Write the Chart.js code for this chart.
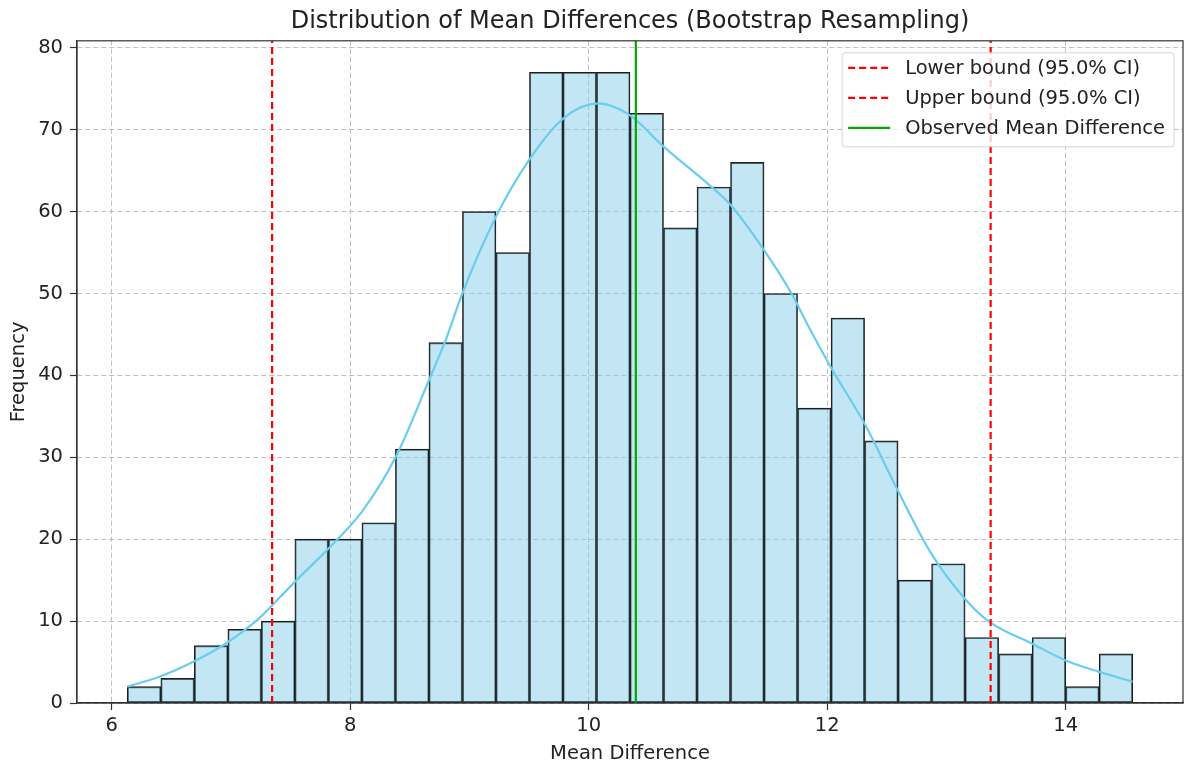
<!DOCTYPE html>
<html>
<head>
<meta charset="utf-8">
<script src="https://cdn.jsdelivr.net/npm/chart.js@4.4.1/dist/chart.umd.min.js"></script>
<style>
html, body { margin: 0; padding: 0; background: #fff; }
#wrap { width: 1184px; height: 769px; position: relative; }
</style>
</head>
<body>
<div id="wrap"><canvas id="mycanvas"></canvas></div>
<script>
// histogram bins (bootstrap mean differences)
var binStart = 6.131;
var binWidth = 0.281;
var counts = [2, 3, 7, 9, 10, 20, 20, 22, 31, 44, 60, 55, 77, 77, 77,
              72, 58, 63, 66, 50, 36, 47, 32, 15, 17, 8, 6, 8, 2, 6];

// kde curve
var kdeX = [6.13, 6.40, 6.68, 6.96, 7.24, 7.41, 7.55, 7.82, 8.10, 8.38, 8.66, 8.80, 8.94,
            9.22, 9.50, 9.79, 10.08, 10.34, 10.63, 11.03, 11.19, 11.46, 11.70, 11.86, 12.03,
            12.32, 12.59, 12.87, 13.15, 13.36, 13.71, 14.00, 14.28, 14.56];
var kdeY = [2.0, 3.2, 5.0, 7.3, 10.4, 12.9, 15.0, 18.9, 23.4, 30.0, 39.4, 44.3, 50.0,
            59.3, 66.3, 71.4, 73.2, 71.8, 67.9, 63.0, 60.8, 55.5, 50.0, 45.5, 41.0,
            33.9, 26.0, 18.3, 12.8, 9.9, 7.3, 5.2, 3.8, 2.6];

var lowerBound = 7.345;
var upperBound = 13.37;
var observedMean = 10.395;

var xTicks = [6, 8, 10, 12, 14];
var yTicks = [0, 10, 20, 30, 40, 50, 60, 70, 80];
var xMin = 5.709, xMax = 14.983;
var yMax = 80.85;

var FONT = '"DejaVu Sans", sans-serif';
var TEXT = '#222';
var FS = 19.5;

var histData = [];
for (var i in counts) {
	histData.push({ x: binStart + (Number(i) + 0.5) * binWidth, y: counts[i] });
}
var kdeData = [];
for (var j in kdeX) {
	kdeData.push({ x: kdeX[j], y: kdeY[j] });
}
function vline(v) {
	return [{ x: v, y: 0 }, { x: v, y: yMax }];
}

// four spines round the plot, like matplotlib
var frame = {
	id: 'frame',
	afterDatasetsDraw: function(chart) {
		var a = chart.chartArea, ctx = chart.ctx;
		ctx.save();
		ctx.strokeStyle = '#333';
		ctx.lineWidth = 1.2;
		ctx.strokeRect(a.left, a.top, a.right - a.left, a.bottom - a.top);
		ctx.restore();
	}
};

// legend box in the upper right corner of the plot
var legendBox = {
	id: 'legendBox',
	afterDraw: function(chart) {
		var a = chart.chartArea, ctx = chart.ctx;
		var items = chart.data.datasets.filter(function(d) { return d.inLegend; });
		ctx.save();
		ctx.font = FS + 'px ' + FONT;
		var w = 0;
		items.forEach(function(d) { w = Math.max(w, ctx.measureText(d.label).width); });
		var boxW = 63 + w + 9, boxH = 94;
		var x0 = a.right - 9 - boxW, y0 = a.top + 12;
		ctx.beginPath();
		ctx.roundRect(x0, y0, boxW, boxH, 3);
		ctx.fillStyle = 'rgba(255,255,255,0.8)';
		ctx.fill();
		ctx.strokeStyle = '#d5d5d5';
		ctx.lineWidth = 1;
		ctx.stroke();
		items.forEach(function(d, k) {
			var cy = y0 + 15 + k * 30;
			ctx.beginPath();
			ctx.setLineDash(d.borderDash || []);
			ctx.strokeStyle = d.borderColor;
			ctx.lineWidth = d.borderWidth;
			ctx.moveTo(x0 + 6, cy);
			ctx.lineTo(x0 + 48, cy);
			ctx.stroke();
			ctx.setLineDash([]);
			ctx.fillStyle = TEXT;
			ctx.textBaseline = 'middle';
			ctx.fillText(d.label, x0 + 63, cy + 1);
		});
		ctx.restore();
	}
};

var gridOpts = {
	color: 'rgba(170,170,170,0.75)',
	tickColor: '#333',
	tickBorderDash: [],
	tickLength: 7,
	tickWidth: 1.2
};
var borderOpts = { display: true, color: '#333', width: 1.2, dash: [5, 3] };

var ctx = document.getElementById('mycanvas');

var chart = new Chart(ctx, {
	data: {
		datasets: [
			{
				type: 'line',
				label: 'Lower bound (95.0% CI)',
				inLegend: true,
				data: vline(lowerBound),
				borderColor: '#ff0000',
				borderWidth: 2.2,
				borderDash: [7, 4],
				pointRadius: 0,
				order: 2
			},
			{
				type: 'line',
				label: 'Upper bound (95.0% CI)',
				inLegend: true,
				data: vline(upperBound),
				borderColor: '#ff0000',
				borderWidth: 2.2,
				borderDash: [7, 4],
				pointRadius: 0,
				order: 1
			},
			{
				type: 'line',
				label: 'Observed Mean Difference',
				inLegend: true,
				data: vline(observedMean),
				borderColor: '#00a800',
				borderWidth: 2.2,
				pointRadius: 0,
				order: 0
			},
			{
				type: 'line',
				label: 'KDE',
				data: kdeData,
				borderColor: 'rgb(105,205,240)',
				borderWidth: 2.2,
				pointRadius: 0,
				cubicInterpolationMode: 'monotone',
				order: 3
			},
			{
				type: 'bar',
				label: 'Count',
				data: histData,
				backgroundColor: 'rgba(135,206,235,0.5)',
				borderColor: '#1e1e1e',
				borderWidth: 1.2,
				borderSkipped: false,
				barPercentage: 1,
				categoryPercentage: 1,
				order: 4
			}
		]
	},
	options: {
		responsive: true,
		maintainAspectRatio: false,
		animation: false,
		layout: { padding: { left: 0, right: 1, top: 0, bottom: 0 } },
		plugins: {
			legend: { display: false },
			tooltip: { enabled: false },
			title: {
				display: true,
				fullSize: false,
				text: 'Distribution of Mean Differences (Bootstrap Resampling)',
				color: TEXT,
				font: { family: FONT, size: 24, weight: 'normal' },
				padding: { top: 7, bottom: 5 }
			}
		},
		scales: {
			x: {
				type: 'linear',
				min: xMin,
				max: xMax,
				offset: false,
				afterFit: function(scale) { scale.height = 66; },
				afterBuildTicks: function(scale) {
					scale.ticks = xTicks.map(function(v) { return { value: v }; });
				},
				ticks: {
					color: TEXT,
					font: { family: FONT, size: FS },
					padding: 4,
					maxRotation: 0,
					callback: function(v) { return v; }
				},
				grid: Object.assign({ offset: false }, gridOpts),
				border: borderOpts,
				title: {
					display: true,
					text: 'Mean Difference',
					color: TEXT,
					font: { family: FONT, size: FS },
					padding: { top: 4, bottom: 3 }
				}
			},
			y: {
				type: 'linear',
				min: 0,
				max: yMax,
				afterFit: function(scale) { scale.width = 77; },
				afterBuildTicks: function(scale) {
					scale.ticks = yTicks.map(function(v) { return { value: v }; });
				},
				ticks: {
					color: TEXT,
					font: { family: FONT, size: FS },
					padding: 7
				},
				grid: gridOpts,
				border: borderOpts,
				title: {
					display: true,
					text: 'Frequency',
					color: TEXT,
					font: { family: FONT, size: FS },
					padding: { top: 7, bottom: 4 }
				}
			}
		}
	},
	plugins: [frame, legendBox]
});
</script>
</body>
</html>
